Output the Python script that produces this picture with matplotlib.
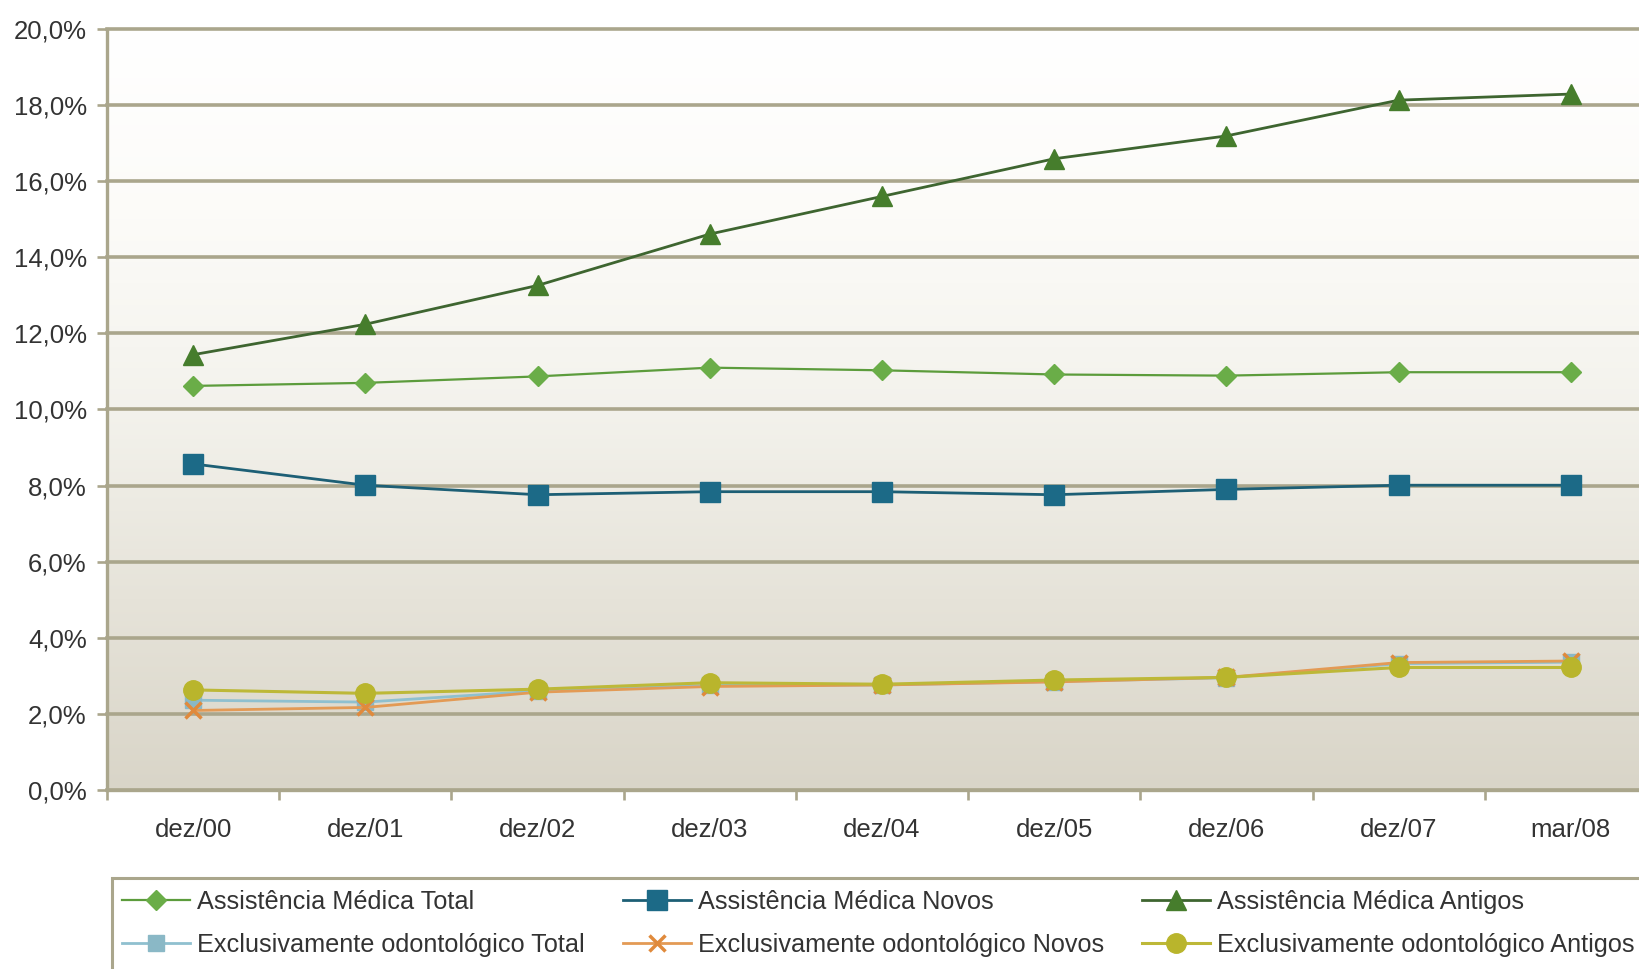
import numpy as np
import matplotlib
matplotlib.use("Agg")
import matplotlib.pyplot as plt
from matplotlib.colors import LinearSegmentedColormap
from matplotlib.patches import Rectangle

plt.rcParams['font.family'] = ['Liberation Sans', 'DejaVu Sans']

periods = ["dez/00", "dez/01", "dez/02", "dez/03", "dez/04",
           "dez/05", "dez/06", "dez/07", "mar/08"]

am_total   = [10.62, 10.70, 10.87, 11.10, 11.03, 10.92, 10.89, 10.98, 10.98]
am_novos   = [8.57, 8.01, 7.76, 7.84, 7.84, 7.76, 7.90, 8.01, 8.01]
am_antigos = [11.44, 12.24, 13.26, 14.61, 15.60, 16.59, 17.19, 18.13, 18.29]
eo_total   = [2.36, 2.31, 2.60, 2.75, 2.76, 2.85, 2.95, 3.32, 3.36]
eo_novos   = [2.09, 2.17, 2.57, 2.72, 2.76, 2.84, 2.96, 3.35, 3.39]
eo_antigos = [2.63, 2.54, 2.65, 2.82, 2.78, 2.89, 2.96, 3.22, 3.22]

y_ticks = [0, 2, 4, 6, 8, 10, 12, 14, 16, 18, 20]
y_tick_labels = [f"{v:.1f}%".replace(".", ",") for v in y_ticks]

W, H = 1640, 969
fig = plt.figure(figsize=(W / 100, H / 100), dpi=100)
fig.patch.set_facecolor("white")

left_px, right_px = 107, 1657
top_px, bottom_px = 29, 790
ax = fig.add_axes([left_px / W, (H - bottom_px) / H,
                   (right_px - left_px) / W, (bottom_px - top_px) / H])

grid_col = "#aaa68c"
text_col = "#333333"
fs = 18.5
leg_fs = 18.2

# soft vertical gradient behind the plot area
bg = LinearSegmentedColormap.from_list(
    "bg", ["#d9d5c8", "#e6e3d9", "#f3f2ec", "#fcfbf8", "#ffffff"])
grad = np.linspace(0, 1, 256).reshape(-1, 1)
ax.imshow(grad, cmap=bg, origin="lower", aspect="auto",
          extent=[-0.5, 8.5, 0, 20], zorder=0)

x = np.arange(len(periods))

series = [
    (am_total,   "Assistência Médica Total",          "#5c9c3c", "#6aad48", "D", 10.5, 1.6),
    (am_novos,   "Assistência Médica Novos",          "#1d5f75", "#1c6a87", "s", 15, 2.0),
    (am_antigos, "Assistência Médica Antigos",        "#3e6530", "#467d2c", "^", 15, 2.0),
    (eo_total,   "Exclusivamente odontológico Total", "#8fc0cf", "#8ab8c6", "s", 12, 2.0),
    (eo_novos,   "Exclusivamente odontológico Novos", "#e39a55", "#e08a3c", "x", 11, 2.0),
    (eo_antigos, "Exclusivamente odontológico Antigos", "#bdb838", "#b9b52c", "o", 14, 2.2),
]

handles = []
for vals, label, lc, mc, mk, ms, lw in series:
    if mk == "x":
        h, = ax.plot(x, vals, color=lc, lw=lw, marker="x", ms=ms,
                     mew=2.5, mec=mc, label=label, zorder=3)
    else:
        h, = ax.plot(x, vals, color=lc, lw=lw, marker=mk, ms=ms,
                     mfc=mc, mec=mc, label=label, zorder=3)
    handles.append(h)

ax.set_xlim(-0.5, 8.5)
ax.set_ylim(0, 20)

ax.set_yticks(y_ticks)
ax.set_yticklabels(y_tick_labels)
ax.yaxis.grid(True, color=grid_col, lw=2.6, zorder=1)
ax.set_axisbelow(False)
for gl in ax.get_ygridlines():
    gl.set_zorder(1)
    gl.set_clip_on(False)

ax.set_xticks(x)
ax.set_xticklabels(periods)
ax.set_xticks(np.arange(-0.5, 8.6, 1.0), minor=True)

ax.tick_params(axis="y", which="major", length=7.5, width=1.9, color=grid_col,
               direction="out", pad=7, labelsize=fs, labelcolor=text_col)
ax.tick_params(axis="x", which="major", length=0, pad=20,
               labelsize=fs, labelcolor=text_col)
ax.tick_params(axis="x", which="minor", length=7.5, width=1.9, color=grid_col,
               direction="out")

for side in ("top", "right"):
    ax.spines[side].set_visible(False)
for side in ("left", "bottom"):
    ax.spines[side].set_color(grid_col)
    ax.spines[side].set_linewidth(2.4)
    ax.spines[side].set_zorder(2)

# legend box: runs past the right and bottom edges of the figure
box_left, box_top = 112, 878
fig.patches.append(Rectangle((box_left / W, -0.05), 1.1, (H - box_top) / H + 0.05,
                             transform=fig.transFigure, facecolor="white",
                             edgecolor=grid_col, linewidth=2.2, zorder=0))

order = [0, 3, 1, 4, 2, 5]
leg = fig.legend([handles[i] for i in order],
                 [handles[i].get_label() for i in order],
                 ncol=3, loc="upper left",
                 bbox_to_anchor=(box_left / W, 1 - (box_top + 2) / H),
                 borderaxespad=0,
                 fontsize=leg_fs, numpoints=1, handlelength=2.7,
                 handletextpad=0.28, columnspacing=1.49,
                 labelspacing=0.75, borderpad=0.4,
                 frameon=False)
for t in leg.get_texts():
    t.set_color(text_col)

fig.savefig("out.png", dpi=100)
